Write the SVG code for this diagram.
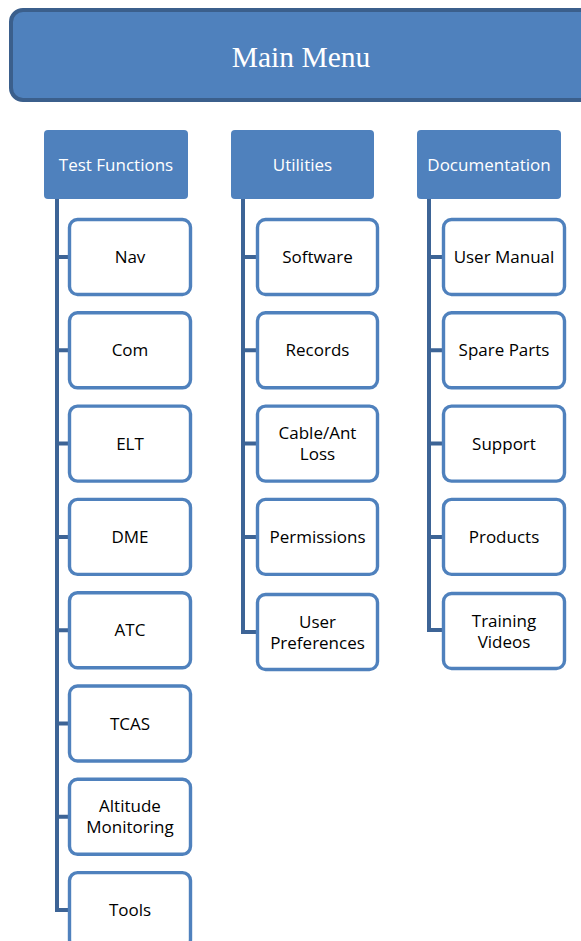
<svg xmlns="http://www.w3.org/2000/svg" width="581" height="941" viewBox="0 0 581 941">
<style>
.hdr{fill:#4f81bd;}
.box{fill:#ffffff;stroke:#4f81bd;stroke-width:3.4;}
.conn{fill:none;stroke:#3d6496;stroke-width:4;stroke-linejoin:miter;}
.ht{font-family:"Open Sans","Liberation Sans",sans-serif;font-size:17px;fill:#ffffff;text-anchor:middle;}
.bt{font-family:"Open Sans","Liberation Sans",sans-serif;font-size:17px;fill:#000000;text-anchor:middle;}
.mt{font-family:"Liberation Serif",serif;font-size:29.5px;fill:#ffffff;text-anchor:middle;}
</style>
<rect width="581" height="941" fill="#ffffff"/>
<g id="main-menu">
<rect x="11" y="10" width="590" height="90" rx="12" fill="#4f81bd" stroke="#3b5f8c" stroke-width="4"/>
<text class="mt" x="301" y="67">Main Menu</text>
</g>
<g id="connectors">
<path class="conn" d="M57,199 V912 M55,910 H69 M57,257 H69 M57,350.3 H69 M57,443.6 H69 M57,536.9 H69 M57,630.2 H69 M57,723.5 H69 M57,816.8 H69"/>
<path class="conn" d="M243,199 V634 M241,632 H257 M243,257 H257 M243,350.3 H257 M243,443.6 H257 M243,536.9 H257"/>
<path class="conn" d="M429,199 V632 M427,630 H443 M429,257 H443 M429,350.3 H443 M429,443.6 H443 M429,536.9 H443"/>
</g>
<g id="test-functions"><rect class="hdr" x="44" y="130" width="144" height="69" rx="4"/><text class="ht" x="116" y="171">Test Functions</text></g>
<g id="utilities"><rect class="hdr" x="231" y="130" width="143" height="69" rx="4"/><text class="ht" x="302.5" y="171">Utilities</text></g>
<g id="documentation"><rect class="hdr" x="417" y="130" width="144" height="69" rx="4"/><text class="ht" x="489" y="171">Documentation</text></g>

<g id="nav"><rect class="box" x="69.5" y="219.5" width="121" height="75" rx="8"/><text class="bt" x="130" y="263">Nav</text></g>
<g id="com"><rect class="box" x="69.5" y="312.8" width="121" height="75" rx="8"/><text class="bt" x="130" y="356.3">Com</text></g>
<g id="elt"><rect class="box" x="69.5" y="406.1" width="121" height="75" rx="8"/><text class="bt" x="130" y="449.6">ELT</text></g>
<g id="dme"><rect class="box" x="69.5" y="499.4" width="121" height="75" rx="8"/><text class="bt" x="130" y="542.9">DME</text></g>
<g id="atc"><rect class="box" x="69.5" y="592.7" width="121" height="75" rx="8"/><text class="bt" x="130" y="636.2">ATC</text></g>
<g id="tcas"><rect class="box" x="69.5" y="686" width="121" height="75" rx="8"/><text class="bt" x="130" y="729.5">TCAS</text></g>
<g id="altitude-monitoring"><rect class="box" x="69.5" y="779.3" width="121" height="75" rx="8"/><text class="bt" x="130" y="812">Altitude</text><text class="bt" x="130" y="833">Monitoring</text></g>
<g id="tools"><rect class="box" x="69.5" y="872.6" width="121" height="75" rx="8"/><text class="bt" x="130" y="916">Tools</text></g>

<g id="software"><rect class="box" x="257.5" y="219.5" width="120" height="75" rx="8"/><text class="bt" x="317.5" y="263">Software</text></g>
<g id="records"><rect class="box" x="257.5" y="312.8" width="120" height="75" rx="8"/><text class="bt" x="317.5" y="356.3">Records</text></g>
<g id="cable-ant-loss"><rect class="box" x="257.5" y="406.1" width="120" height="75" rx="8"/><text class="bt" x="317.5" y="439">Cable/Ant</text><text class="bt" x="317.5" y="460">Loss</text></g>
<g id="permissions"><rect class="box" x="257.5" y="499.4" width="120" height="75" rx="8"/><text class="bt" x="317.5" y="542.9">Permissions</text></g>
<g id="user-preferences"><rect class="box" x="257.5" y="594.5" width="120" height="75" rx="8"/><text class="bt" x="317.5" y="627.5">User</text><text class="bt" x="317.5" y="648.5">Preferences</text></g>

<g id="user-manual"><rect class="box" x="443.5" y="219.5" width="121" height="75" rx="8"/><text class="bt" x="504" y="263">User Manual</text></g>
<g id="spare-parts"><rect class="box" x="443.5" y="312.8" width="121" height="75" rx="8"/><text class="bt" x="504" y="356.3">Spare Parts</text></g>
<g id="support"><rect class="box" x="443.5" y="406.1" width="121" height="75" rx="8"/><text class="bt" x="504" y="449.6">Support</text></g>
<g id="products"><rect class="box" x="443.5" y="499.4" width="121" height="75" rx="8"/><text class="bt" x="504" y="542.9">Products</text></g>
<g id="training-videos"><rect class="box" x="443.5" y="593.5" width="121" height="75" rx="8"/><text class="bt" x="504" y="626.5">Training</text><text class="bt" x="504" y="647.5">Videos</text></g>
</svg>
